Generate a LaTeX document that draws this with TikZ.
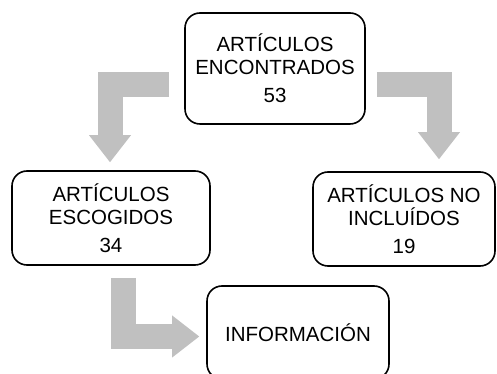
\documentclass[tikz,border=0pt]{standalone}
\usepackage{fontspec}
\setmainfont{Liberation Sans}
\usetikzlibrary{arrows.meta}

\definecolor{arrowgray}{RGB}{192,192,192}

\begin{document}
\begin{tikzpicture}[x=1pt,y=1pt,
    box/.style={draw, line width=1.6pt, rounded corners=15pt, align=center,
      font=\fontsize{20.5}{23}\selectfont},
    bigarrow/.style={draw=arrowgray, line width=25pt,
      -{Triangle[length=27pt,width=42pt,line width=0pt]}}]
  \useasboundingbox (0,0) rectangle (497,374);
  \clip (0,0) rectangle (497,374);

  \node[box, minimum width=180pt, minimum height=111pt] (encontrados) at (275,305.5)
    {ARTÍCULOS\\ENCONTRADOS\\[5pt]53};
  \node[box, minimum width=198pt, minimum height=94pt] (escogidos) at (111,156)
    {ARTÍCULOS\\ESCOGIDOS\\[5pt]34};
  \node[box, minimum width=182pt, minimum height=94pt] (noincluidos) at (404,155)
    {ARTÍCULOS NO\\INCLUÍDOS\\[5pt]19};
  \node[box, minimum width=182pt, minimum height=93pt] (informacion) at (298,41.5)
    {INFORMACIÓN};

  \draw[bigarrow] ([shift={(-15,-16.5)}]encontrados.west) -| ([shift={(-1,8)}]escogidos.north);
  \draw[bigarrow] ([shift={(11,-16.5)}]encontrados.east) -| ([shift={(35,12)}]noincluidos.north);
  \draw[bigarrow] ([shift={(12,-12)}]escogidos.south) |- ([shift={(-7,-4)}]informacion.west);
\end{tikzpicture}
\end{document}
